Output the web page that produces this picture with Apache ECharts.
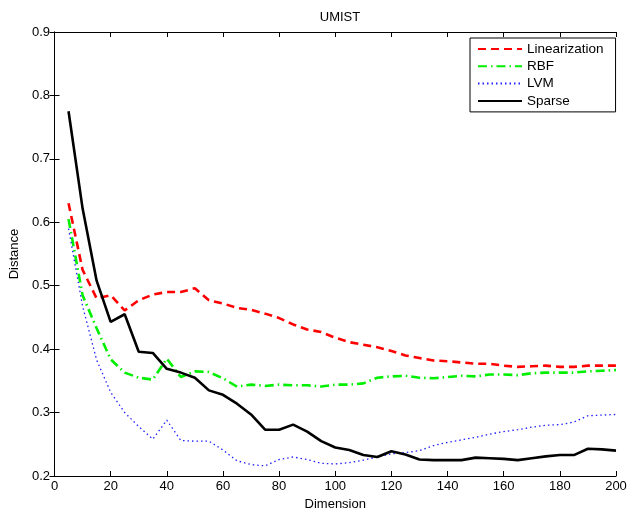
<!DOCTYPE html>
<html>
<head>
<meta charset="utf-8">
<script src="https://cdn.jsdelivr.net/npm/echarts@6/dist/echarts.min.js"></script>
<style>
  html, body { margin: 0; padding: 0; background: #fff; }
  #main { width: 630px; height: 512px; }
</style>
</head>
<body>
<div id="main"></div>
<script>
// x 轴维度
const dims = [5, 10, 15, 20, 25, 30, 35, 40, 45, 50, 55, 60, 65, 70, 75, 80, 85, 90, 95, 100,
  105, 110, 115, 120, 125, 130, 135, 140, 145, 150, 155, 160, 165, 170, 175, 180, 185, 190, 195, 200];

const linearization = [0.630, 0.525, 0.480, 0.485, 0.461, 0.477, 0.486, 0.490, 0.490, 0.496,
  0.477, 0.472, 0.465, 0.462, 0.456, 0.449, 0.439, 0.431, 0.427, 0.418,
  0.411, 0.407, 0.403, 0.397, 0.390, 0.386, 0.382, 0.381, 0.379, 0.377,
  0.377, 0.374, 0.372, 0.373, 0.374, 0.372, 0.372, 0.374, 0.374, 0.374];

const rbf = [0.605, 0.485, 0.433, 0.384, 0.363, 0.355, 0.352, 0.385, 0.356, 0.365,
  0.364, 0.354, 0.341, 0.344, 0.342, 0.344, 0.343, 0.343, 0.341, 0.344,
  0.344, 0.346, 0.355, 0.357, 0.358, 0.355, 0.354, 0.356, 0.358, 0.357,
  0.360, 0.360, 0.359, 0.362, 0.363, 0.363, 0.363, 0.365, 0.366, 0.367];

const lvm = [0.590, 0.468, 0.383, 0.332, 0.300, 0.278, 0.258, 0.288, 0.256, 0.255,
  0.255, 0.241, 0.224, 0.218, 0.216, 0.226, 0.230, 0.226, 0.220, 0.219,
  0.221, 0.225, 0.230, 0.235, 0.237, 0.240, 0.248, 0.253, 0.257, 0.261,
  0.266, 0.270, 0.273, 0.277, 0.280, 0.281, 0.285, 0.295, 0.296, 0.297];

const sparse = [0.775, 0.622, 0.508, 0.443, 0.455, 0.396, 0.394, 0.369, 0.363, 0.355,
  0.335, 0.328, 0.314, 0.297, 0.273, 0.273, 0.281, 0.270, 0.255, 0.245,
  0.241, 0.233, 0.230, 0.239, 0.234, 0.226, 0.225, 0.225, 0.225, 0.229,
  0.228, 0.227, 0.225, 0.228, 0.231, 0.233, 0.233, 0.243, 0.242, 0.240];

const seriesNames = ['Linearization', 'RBF', 'LVM', 'Sparse'];

function pairs(vals) {
  return dims.map((d, i) => [d, vals[i]]);
}

const font = 'Liberation Sans, Arial, sans-serif';
const chart = echarts.init(document.getElementById('main'));

// 坐标轴公共样式（MATLAB风格，刻度朝内）
const axLine = { show: true, lineStyle: { color: '#000', width: 1 } };
const axTick = { show: true, inside: true, length: 5, lineStyle: { color: '#000', width: 1 } };

const option = {
  animation: false,
  backgroundColor: '#fff',
  title: {
    text: 'UMIST',
    left: 335, top: 6, textAlign: 'center',
    textStyle: { fontFamily: font, fontSize: 13, fontWeight: 'normal', color: '#000' }
  },
  legend: {
    data: seriesNames,
    orient: 'vertical',
    left: 470, top: 38,
    padding: [4, 12, 4, 7],
    itemWidth: 44, itemHeight: 14, itemGap: 3.3,
    borderColor: '#000', borderWidth: 1,
    backgroundColor: '#fff',
    // 图例里只画线，不画圆点
    itemStyle: { color: 'rgba(0,0,0,0)', borderColor: 'rgba(0,0,0,0)', borderWidth: 0 },
    textStyle: { fontFamily: font, fontSize: 13.5, color: '#000', lineHeight: 14 }
  },
  // v6 默认会为了标签收缩网格，这里固定绘图区
  grid: { left: 54.5, right: 14, top: 32, bottom: 36, outerBoundsMode: 'none', containLabel: false },
  xAxis: [
    {
      type: 'value', min: 0, max: 200, interval: 20,
      name: 'Dimension', nameLocation: 'middle', nameGap: 20,
      nameTextStyle: { fontFamily: font, fontSize: 13, color: '#000' },
      axisLine: axLine, axisTick: axTick, splitLine: { show: false },
      axisLabel: { fontFamily: font, fontSize: 13, color: '#000', margin: 4 }
    },
    {
      type: 'value', min: 0, max: 200, interval: 20, position: 'top',
      axisLine: axLine, axisTick: axTick, splitLine: { show: false },
      axisLabel: { show: false }
    }
  ],
  yAxis: [
    {
      type: 'value', min: 0.2, max: 0.9, interval: 0.1,
      name: 'Distance', nameLocation: 'middle', nameGap: 27,
      nameTextStyle: { fontFamily: font, fontSize: 13, color: '#000' },
      axisLine: axLine, axisTick: axTick, splitLine: { show: false },
      axisLabel: { fontFamily: font, fontSize: 13, color: '#000', margin: 4.5,
        formatter: v => v.toFixed(1) }
    },
    {
      type: 'value', min: 0.2, max: 0.9, interval: 0.1, position: 'right',
      axisLine: axLine, axisTick: axTick, splitLine: { show: false },
      axisLabel: { show: false }
    }
  ],
  series: [
    {
      name: 'Linearization', type: 'line', symbol: 'none', data: pairs(linearization),
      itemStyle: { color: '#ff0000' },
      lineStyle: { color: '#ff0000', width: 2.6, type: [8, 5] }
    },
    {
      name: 'RBF', type: 'line', symbol: 'none', data: pairs(rbf),
      itemStyle: { color: '#00ee00' },
      lineStyle: { color: '#00ee00', width: 2.6, type: [9, 4, 1.5, 4] }
    },
    {
      name: 'LVM', type: 'line', symbol: 'none', data: pairs(lvm),
      itemStyle: { color: '#0000ff' },
      lineStyle: { color: '#2020ff', width: 1.3, type: [1.5, 3] }
    },
    {
      name: 'Sparse', type: 'line', symbol: 'none', data: pairs(sparse),
      itemStyle: { color: '#000' },
      lineStyle: { color: '#000', width: 2.6 }
    }
  ]
};

chart.setOption(option);
</script>
</body>
</html>
